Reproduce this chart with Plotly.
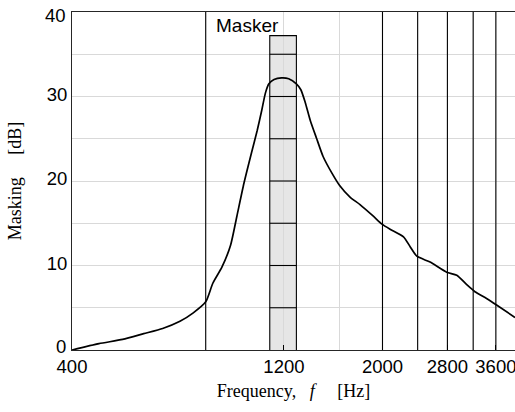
import numpy as np
import plotly.graph_objects as go

# ---- data ----
freq_hz = [400, 460, 520, 580, 640, 700, 750, 800, 830, 870, 910, 940, 975, 1015,
           1045, 1070, 1090, 1110, 1140, 1185, 1230, 1280, 1310, 1340, 1375, 1420,
           1470, 1540, 1600, 1690, 1780, 1910, 1995, 2080, 2230, 2310, 2390, 2560,
           2790, 2940, 3100, 3230, 3430, 3620, 3975]
masking_db = [0.0, 0.75, 1.25, 1.93, 2.55, 3.4, 4.4, 5.7, 7.9, 9.8, 12.4, 15.8, 19.7,
              23.4, 26.0, 28.4, 30.4, 31.5, 32.0, 32.2, 32.1, 31.5, 30.8, 29.3, 27.2,
              25.1, 22.9, 20.9, 19.5, 18.1, 17.2, 15.8, 14.9, 14.3, 13.4, 12.2, 11.1,
              10.4, 9.2, 8.85, 7.7, 6.9, 6.1, 5.3, 3.85]

boundary_hz = [800, 2000, 2400, 2800, 3200, 3600]
band_lo_hz = 1115
band_hi_hz = 1280
band_top_db = 37.2
band_levels_db = [5, 10, 15, 20, 25, 30, 35]
masker_label = "Masker"
masker_label_hz = 995
masker_label_db = 38.4

x_tick_vals = [400, 1200, 2000, 2800, 3600]
x_tick_text = ["400", "1200", "2000", "2800", "3600"]
x_grid_vals = [400, 800, 1200, 1600, 2000, 2400, 2800, 3200, 3600]
y_tick_vals = [0, 10, 20, 30, 40]
y_tick_text = ["0", "10", "20", "30", "40"]
x_range_hz = [400, 3975]
y_range_db = [0, 40]

GRID = "#d9d9d9"
SANS = "Liberation Sans, Arial, sans-serif"
SERIF = "Liberation Serif, Times New Roman, serif"
NB = "\u00a0"

fig = go.Figure()

# band outline and internal level lines (above grid)
seg_x, seg_y = [], []
for lv in band_levels_db:
    seg_x += [band_lo_hz, band_hi_hz, None]
    seg_y += [lv, lv, None]
fig.add_trace(go.Scatter(x=seg_x, y=seg_y, mode="lines",
                         line=dict(color="black", width=1.1), hoverinfo="skip",
                         showlegend=False))
fig.add_trace(go.Scatter(x=[band_lo_hz, band_lo_hz, band_hi_hz, band_hi_hz],
                         y=[y_range_db[0], band_top_db, band_top_db, y_range_db[0]],
                         mode="lines", line=dict(color="black", width=1.1),
                         hoverinfo="skip", showlegend=False))

# critical band boundaries
bx, by = [], []
for b in boundary_hz:
    bx += [b, b, None]
    by += [y_range_db[0], y_range_db[1], None]
fig.add_trace(go.Scatter(x=bx, y=by, mode="lines",
                         line=dict(color="black", width=1.1), hoverinfo="skip",
                         showlegend=False))

# masking curve
fig.add_trace(go.Scatter(x=freq_hz, y=masking_db, mode="lines",
                         line=dict(color="black", width=1.7, shape="spline", smoothing=0.6),
                         showlegend=False))

# band fill below gridlines
fig.add_shape(type="rect", xref="x", yref="y", x0=band_lo_hz, x1=band_hi_hz,
              y0=y_range_db[0], y1=band_top_db, fillcolor="#e6e6e6",
              line=dict(width=0), layer="below")

fig.add_annotation(x=np.log10(masker_label_hz), y=masker_label_db, xref="x", yref="y",
                   text=masker_label, showarrow=False, xanchor="center", yanchor="middle",
                   font=dict(family=SANS, size=19, color="black"))

# edge labels of the y axis: the bottom one sits a little higher, the top one a little lower
edge_shift = {y_range_db[0]: 4, y_range_db[1]: -3.5}
inner_vals, inner_text = [], []
for v, t in zip(y_tick_vals, y_tick_text):
    if v in edge_shift:
        fig.add_annotation(x=0, y=v, xref="paper", yref="y", text=t,
                           showarrow=False, xanchor="right", yanchor="middle",
                           xshift=-4, yshift=edge_shift[v],
                           font=dict(family=SANS, size=18.5, color="black"))
    else:
        inner_vals.append(v)
        inner_text.append(t)

fig.update_xaxes(type="log", range=[np.log10(x_range_hz[0]), np.log10(x_range_hz[1])],
                 tickvals=x_tick_vals, ticktext=x_tick_text,
                 ticks="inside", ticklen=5, tickcolor="black",
                 ticklabeloverflow="allow",
                 showgrid=True, gridcolor=GRID, gridwidth=1,
                 minor=dict(tickvals=x_grid_vals, showgrid=True, gridcolor=GRID, ticks=""),
                 showline=True, linecolor="#262626", linewidth=1, mirror=True,
                 zeroline=False,
                 tickfont=dict(family=SANS, size=18.5, color="black"),
                 title=dict(text="Frequency," + NB * 3 + "<i>f</i>" + NB * 5 + "[Hz]",
                            font=dict(family=SERIF, size=18, color="black"), standoff=8))
fig.update_yaxes(range=y_range_db, tickvals=inner_vals, ticktext=inner_text,
                 showgrid=True, gridcolor=GRID, gridwidth=1,
                 minor=dict(dtick=5, showgrid=True, gridcolor=GRID),
                 showline=True, linecolor="#262626", linewidth=1,
                 zeroline=False, ticks="", ticklabeloverflow="allow",
                 ticklabelshift=-2,
                 tickfont=dict(family=SANS, size=18.5, color="black"),
                 title=dict(text="Masking" + NB * 5 + "[dB]",
                            font=dict(family=SERIF, size=18, color="black"), standoff=20))

fig.update_layout(width=515, height=412,
                  margin=dict(l=72, r=0, t=12, b=62, autoexpand=False),
                  plot_bgcolor="white", paper_bgcolor="white",
                  showlegend=False)

# drop the page's default body margin so the figure fills the window exactly
fig.write_html("out.html", config={"displayModeBar": False},
               post_script="document.body.style.margin='0px';")
